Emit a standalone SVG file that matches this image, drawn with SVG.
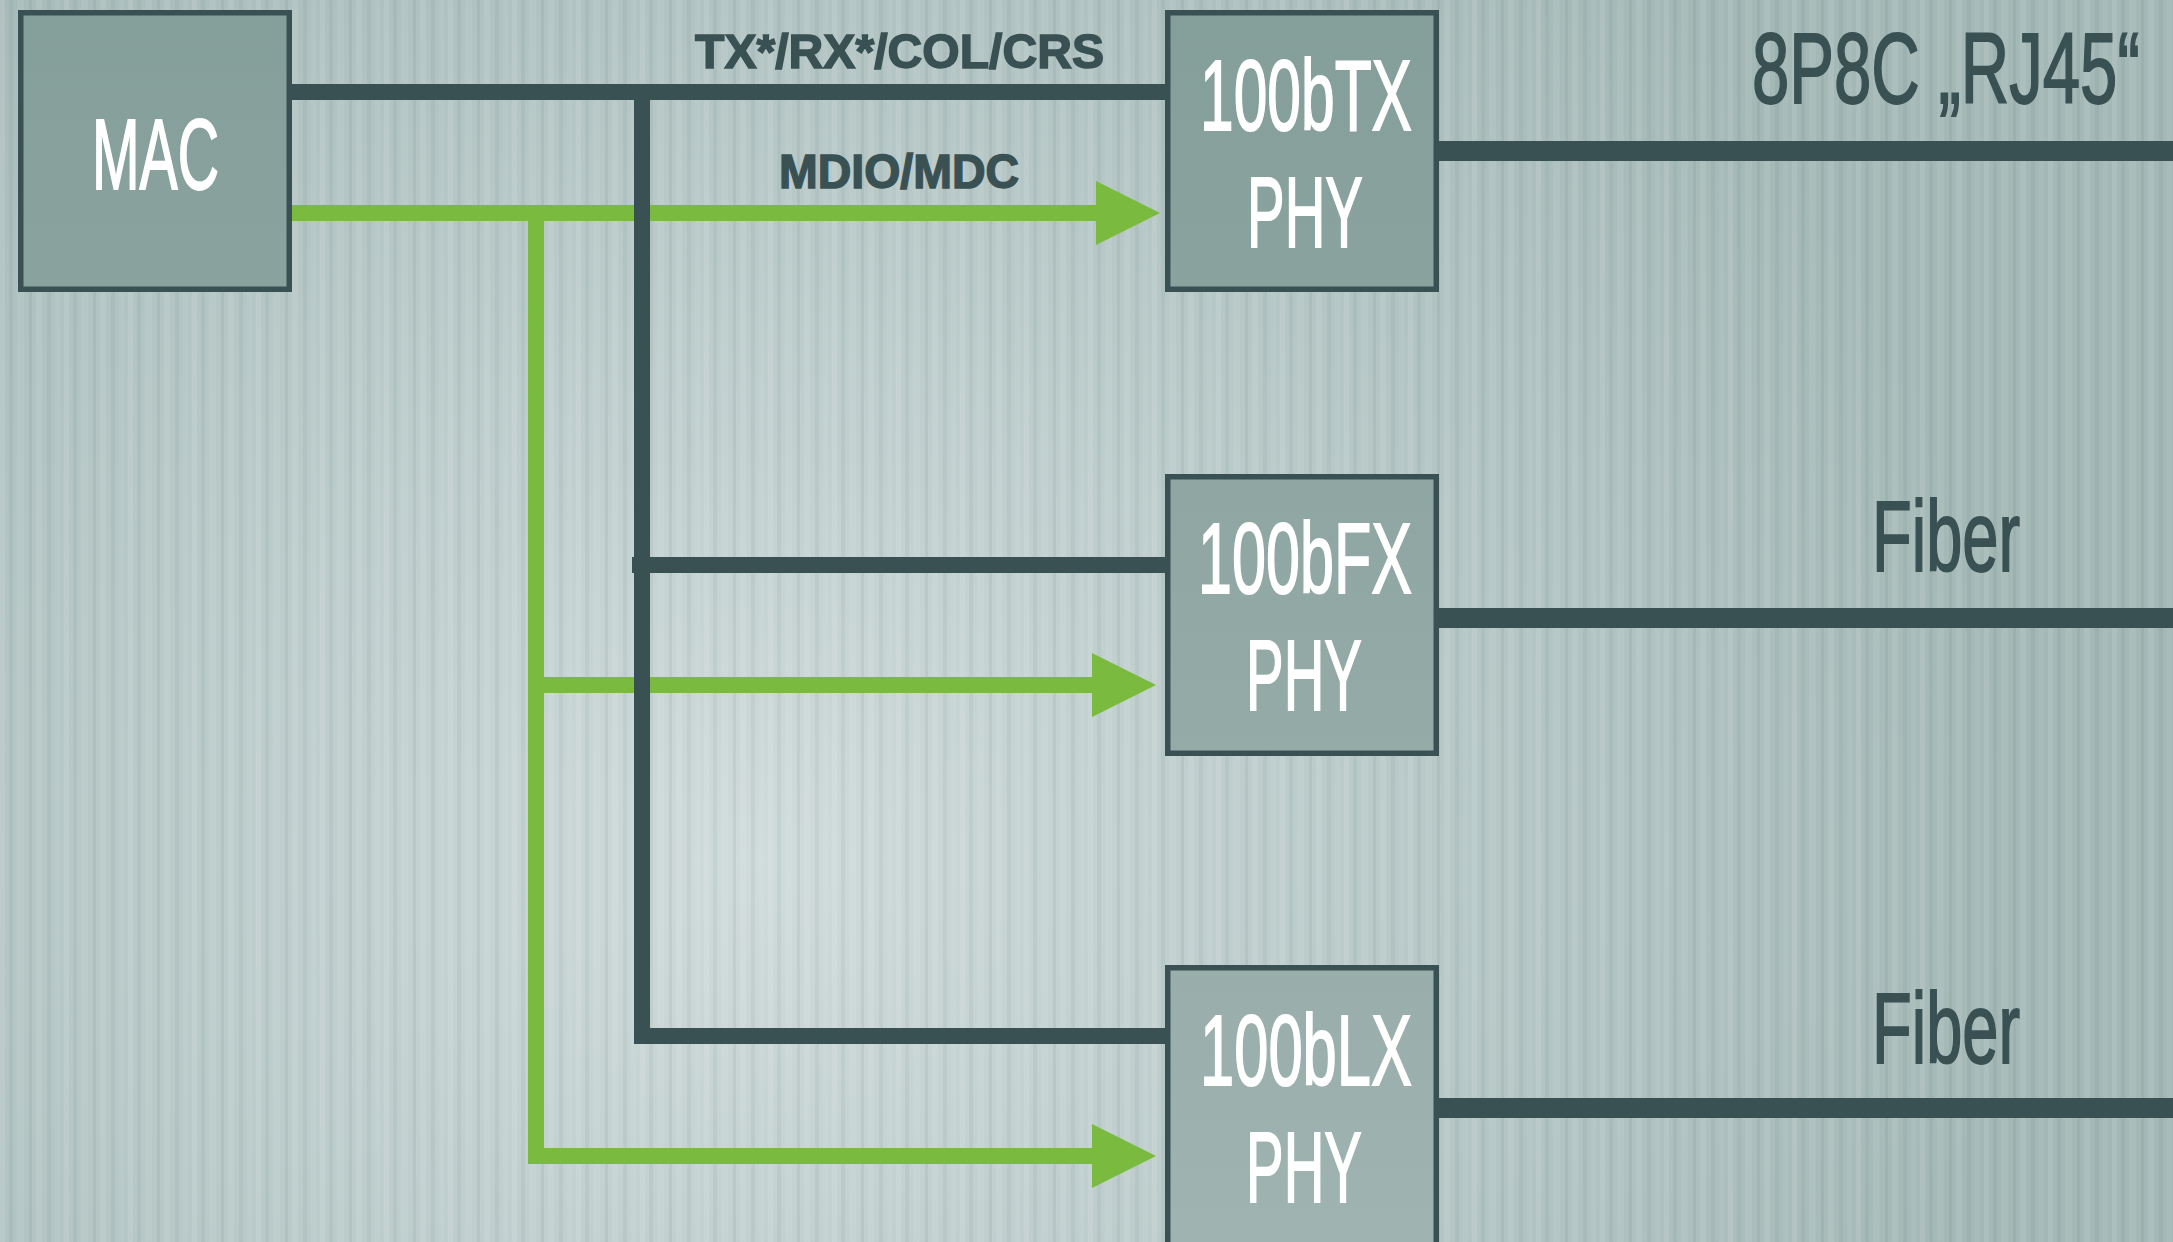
<svg xmlns="http://www.w3.org/2000/svg" width="2173" height="1242" viewBox="0 0 2173 1242">
<defs>
<radialGradient id="bg" cx="760" cy="860" r="1250" gradientUnits="userSpaceOnUse">
<stop offset="0" stop-color="#d0dbdb"/>
<stop offset="0.55" stop-color="#b7c8c7"/>
<stop offset="1" stop-color="#a4b8b6"/>
</radialGradient>
<linearGradient id="boxfill" x1="0" y1="0" x2="0" y2="1242" gradientUnits="userSpaceOnUse">
<stop offset="0" stop-color="#849e99"/>
<stop offset="1" stop-color="#9fb3b0"/>
</linearGradient>
<pattern id="stripes" x="0" y="0" width="64" height="1242" patternUnits="userSpaceOnUse">
<rect x="0" y="0" width="5" height="1242" fill="#ffffff" opacity="0.10"/>
<rect x="9" y="0" width="4" height="1242" fill="#4a6462" opacity="0.07"/>
<rect x="17" y="0" width="7" height="1242" fill="#ffffff" opacity="0.07"/>
<rect x="29" y="0" width="3" height="1242" fill="#4a6462" opacity="0.09"/>
<rect x="36" y="0" width="6" height="1242" fill="#ffffff" opacity="0.09"/>
<rect x="47" y="0" width="4" height="1242" fill="#4a6462" opacity="0.07"/>
<rect x="55" y="0" width="5" height="1242" fill="#ffffff" opacity="0.06"/>
</pattern>
<marker id="arrow" markerUnits="userSpaceOnUse" markerWidth="66" markerHeight="66" refX="2" refY="32" orient="auto" viewBox="0 0 66 66">
<path d="M0,0 L64,32 L0,64 Z" fill="#7aba3e"/>
</marker>
<style>
.bg{fill:url(#bg)}
.box{fill:url(#boxfill);stroke:#3a5154;stroke-width:5.5}
.boxtxt{font-family:"Liberation Sans",Arial,sans-serif;font-size:100px;fill:#ffffff;stroke:#ffffff;stroke-width:1.8;text-anchor:middle}
.sig{fill:none;stroke:#3a5154;stroke-width:16;stroke-linejoin:miter}
.ctl{fill:none;stroke:#7aba3e;stroke-width:16;stroke-linejoin:miter}
.out{fill:none;stroke:#3a5154;stroke-width:20}
.lbl{font-family:"Liberation Sans",Arial,sans-serif;font-weight:bold;font-size:48px;fill:#3a5154;stroke:#3a5154;stroke-width:1.5}
.media{font-family:"Liberation Sans",Arial,sans-serif;font-size:100px;fill:#3a5154;stroke:#3a5154;stroke-width:1.8}
</style>
</defs>
<rect class="bg" x="0" y="0" width="2173" height="1242"/>
<rect x="0" y="0" width="2173" height="1242" fill="url(#stripes)"/>

<g id="connectors">
<path class="ctl" d="M292,213 H1098" marker-end="url(#arrow)"/>
<path class="ctl" d="M536,213 V1156 H1094" marker-end="url(#arrow)"/>
<path class="ctl" d="M536,685 H1094" marker-end="url(#arrow)"/>
<path class="sig" d="M292,92 H1165"/>
<path class="sig" d="M642,92 V1036 H1165"/>
<path class="sig" d="M632,565 H1165"/>
<path class="out" d="M1439,151 H2173"/>
<path class="out" d="M1439,618 H2173"/>
<path class="out" d="M1439,1108 H2173"/>
<text class="lbl" x="695" y="68" textLength="409" lengthAdjust="spacingAndGlyphs">TX*/RX*/COL/CRS</text>
<text class="lbl" x="779" y="188" textLength="240" lengthAdjust="spacingAndGlyphs">MDIO/MDC</text>
</g>

<g id="mac">
<rect class="box" x="20.75" y="12.75" width="268.5" height="276.5"/>
<text class="boxtxt" transform="translate(155.5,189) scale(0.572,1)">MAC</text>
</g>

<g id="phy-tx">
<rect class="box" x="1167.75" y="12.75" width="268.5" height="276.5"/>
<text class="boxtxt" transform="translate(1306,130) scale(0.605,1)">100bTX</text>
<text class="boxtxt" transform="translate(1305,247) scale(0.564,1)">PHY</text>
</g>

<g id="phy-fx">
<rect class="box" x="1167.75" y="476.75" width="268.5" height="276.5"/>
<text class="boxtxt" transform="translate(1305,593) scale(0.611,1)">100bFX</text>
<text class="boxtxt" transform="translate(1304,710) scale(0.564,1)">PHY</text>
</g>

<g id="phy-lx">
<rect class="box" x="1167.75" y="967.75" width="268.5" height="290"/>
<text class="boxtxt" transform="translate(1306,1085) scale(0.615,1)">100bLX</text>
<text class="boxtxt" transform="translate(1304,1202) scale(0.564,1)">PHY</text>
</g>

<g id="media-rj45">
<text class="media" transform="translate(1752,103) scale(0.671,1)">8P8C „RJ45“</text>
</g>
<g id="media-fiber1">
<text class="media" transform="translate(1872,571) scale(0.65,1)">Fiber</text>
</g>
<g id="media-fiber2">
<text class="media" transform="translate(1872,1063) scale(0.65,1)">Fiber</text>
</g>
</svg>
